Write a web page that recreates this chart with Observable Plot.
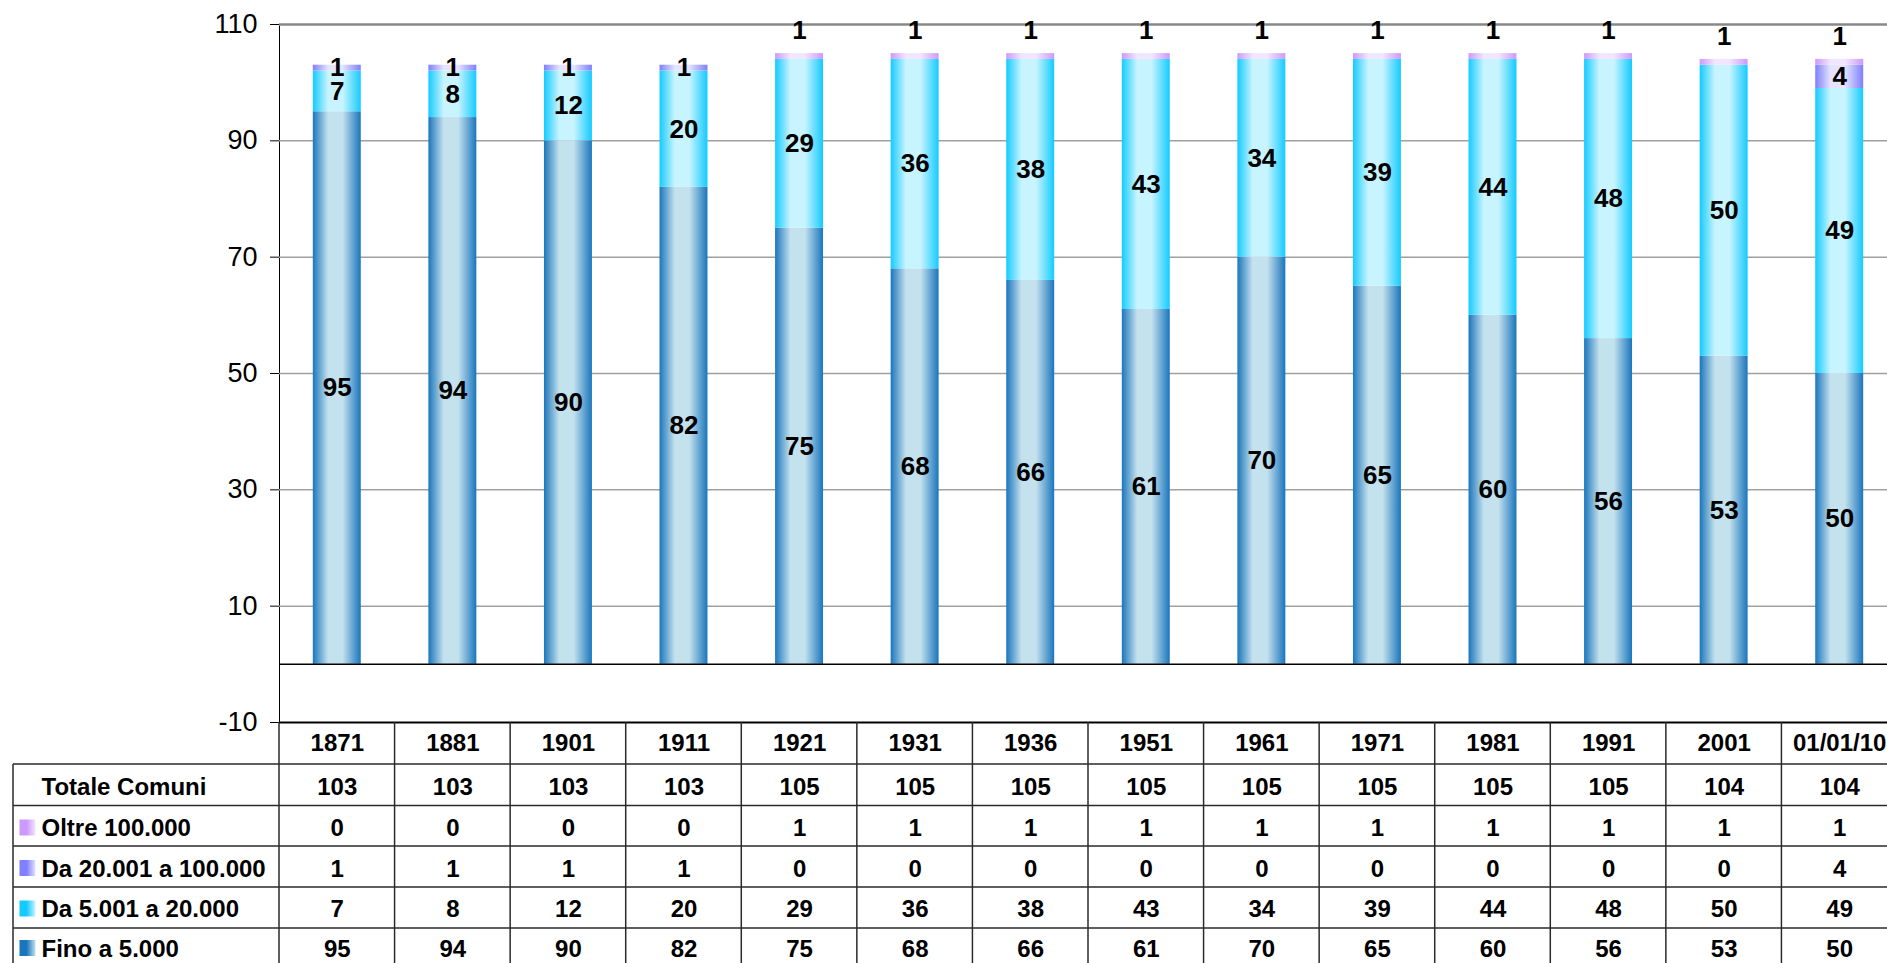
<!DOCTYPE html>
<html><head><meta charset="utf-8">
<script src="https://cdn.jsdelivr.net/npm/d3@7"></script>
<script src="https://cdn.jsdelivr.net/npm/@observablehq/plot@0.6"></script>
<style>
html,body{margin:0;padding:0;background:#fff;overflow:hidden;}
#chart{width:1900px;}
#chart svg{display:block;max-width:none !important;width:1900px !important;height:975px !important;}
</style></head><body><div id="chart"></div>
<script>
// ---- data ----
const years = ["1871","1881","1901","1911","1921","1931","1936","1951","1961","1971","1981","1991","2001","01/01/10"];
const totale = [103,103,103,103,105,105,105,105,105,105,105,105,104,104];
const oltre100k = [0,0,0,0,1,1,1,1,1,1,1,1,1,1];
const da20k = [1,1,1,1,0,0,0,0,0,0,0,0,0,4];
const da5k = [7,8,12,20,29,36,38,43,34,39,44,48,50,49];
const fino5k = [95,94,90,82,75,68,66,61,70,65,60,56,53,50];
const seriesNames = ["Fino a 5.000","Da 5.001 a 20.000","Da 20.001 a 100.000","Oltre 100.000"];
const seriesValues = [fino5k, da5k, da20k, oltre100k];
const yTicks = [-10,10,30,50,70,90,110];
const gridTicks = [10,30,50,70,90];
const tableRowLabels = ["Totale Comuni","Oltre 100.000","Da 20.001 a 100.000","Da 5.001 a 20.000","Fino a 5.000"];
const tableRowValues = [totale, oltre100k, da20k, da5k, fino5k];
const tableRowSeries = [null,"Oltre 100.000","Da 20.001 a 100.000","Da 5.001 a 20.000","Fino a 5.000"];

// ---- styles ----
const gradColors = {
  "Fino a 5.000": ["#1a76bc","#c4e1ee"],
  "Da 5.001 a 20.000": ["#14cbff","#c8f4ff"],
  "Da 20.001 a 100.000": ["#7f7fff","#e4e4ff"],
  "Oltre 100.000": ["#cc99ff","#f1e6ff"]
};
const slug = s => s.replace(/[^a-z0-9]/gi, "");
const gid = s => "g-" + slug(s);
const lid = s => "l-" + slug(s);

const long = [];
seriesNames.forEach((s, k) => years.forEach((y, i) => long.push({year: y, series: s, value: seriesValues[k][i]})));

const headerDy = 21;
const rowDy = [65, 106, 146.5, 187, 226.5];
const rowEdges = [0, 42, 83.5, 124, 165, 206, 247];
const FONT = "'Liberation Sans', Arial, Helvetica, sans-serif";
const TABLE_FS = 24;
const LABEL_FS = 26;
const TICK_FS = 27;

const plot = Plot.plot({
  width: 1900, height: 975,
  marginTop: 24, marginBottom: 253, marginLeft: 279, marginRight: 3,
  style: {fontFamily: FONT, fontSize: "24px", color: "#000", background: "transparent", overflow: "visible"},
  x: {domain: years, paddingInner: 0.585, paddingOuter: 0.2925, round: false, axis: null},
  y: {domain: [-10, 110], ticks: yTicks, tickSize: 9, tickPadding: 13, label: null, line: true, tickFormat: () => ""},
  color: {type: "ordinal", domain: seriesNames, range: seriesNames.map(s => `url(#${gid(s)})`)},
  marks: [
    Plot.ruleY(gridTicks, {stroke: "#a0a0a0", strokeWidth: 1.5}),
    Plot.ruleY([110], {stroke: "#888", strokeWidth: 2.5}),
    // y tick labels
    Plot.text(yTicks, {y: d => d, text: d => String(d), frameAnchor: "left", textAnchor: "end", lineAnchor: "middle", dx: -22, fontSize: TICK_FS, fill: "#000"}),
    Plot.barY(long, {x: "year", y: "value", fill: "series", z: "series", order: seriesNames}),
    Plot.ruleY([0], {stroke: "#000", strokeWidth: 1.5}),
    Plot.ruleY([-10], {stroke: "#000", strokeWidth: 2}),
    Plot.text(long, Plot.stackY({
      x: "year", y: "value", z: "series", order: seriesNames,
      text: d => (d.series !== "Oltre 100.000" && d.value > 0) ? String(d.value) : null,
      fontWeight: "bold", fontSize: LABEL_FS, fill: "#000"
    })),
    Plot.text(long, Plot.stackY2({
      x: "year", y: "value", z: "series", order: seriesNames,
      text: d => (d.series === "Oltre 100.000" && d.value > 0) ? String(d.value) : null,
      dy: -23, fontWeight: "bold", fontSize: LABEL_FS, fill: "#000"
    })),
    // table header
    Plot.text(years, {x: d => d, text: d => d, frameAnchor: "bottom", lineAnchor: "middle", dy: headerDy, fontWeight: "bold", fontSize: TABLE_FS, fill: "#000"}),
    // table values
    ...tableRowValues.map((vals, r) => Plot.text(years, {
      x: d => d, text: (d, i) => String(vals[i]), frameAnchor: "bottom", lineAnchor: "middle", dy: rowDy[r],
      fontWeight: "bold", fontSize: TABLE_FS, fill: "#000"
    })),
    // row labels
    ...tableRowLabels.map((lab, r) => Plot.text([lab], {
      text: d => d, frameAnchor: "bottom-left", lineAnchor: "middle", textAnchor: "start", dx: -238, dy: rowDy[r],
      fontWeight: "bold", fontSize: TABLE_FS, fill: "#000"
    })),
    // legend keys
    ...tableRowSeries.map((s, r) => s ? Plot.dot([s], {
      frameAnchor: "bottom-left", dx: -252, dy: rowDy[r] - 1, symbol: "square", r: 9.03,
      fill: `url(#${lid(s)})`
    }) : null).filter(Boolean)
  ]
});

const svg = d3.select(plot);

// gradients
const defs = svg.insert("defs", ":first-child");
seriesNames.forEach(s => {
  const [edge, light] = gradColors[s];
  const g = defs.append("linearGradient").attr("id", gid(s)).attr("x1", 0).attr("x2", 1).attr("y1", 0).attr("y2", 0);
  [[0, edge], [0.32, light], [0.62, light], [1, edge]].forEach(([o, c]) => g.append("stop").attr("offset", o).attr("stop-color", c));
  const l = defs.append("linearGradient").attr("id", lid(s)).attr("x1", 0).attr("x2", 1).attr("y1", 0).attr("y2", 0);
  [[0, edge], [0.45, edge], [1, light]].forEach(([o, c]) => l.append("stop").attr("offset", o).attr("stop-color", c));
});

// table grid lines, positioned from the plot's own scales
const xs = plot.scale("x");
const ys = plot.scale("y");
const edges = years.map(d => xs.apply(d) + xs.bandwidth / 2 - xs.step / 2);
edges.push(edges[edges.length - 1] + xs.step);
const y0 = ys.apply(-10);
const leftX = 13;
const gl = svg.append("g").attr("stroke", "#2a2a2a").attr("stroke-width", 1.5);
rowEdges.slice(1).forEach(o => gl.append("line").attr("x1", leftX).attr("x2", edges[edges.length - 1]).attr("y1", y0 + o).attr("y2", y0 + o));
gl.append("line").attr("x1", leftX).attr("x2", leftX).attr("y1", y0 + rowEdges[1]).attr("y2", y0 + rowEdges[6]);
edges.forEach(x => gl.append("line").attr("x1", x).attr("x2", x).attr("y1", y0).attr("y2", y0 + rowEdges[6]));

document.getElementById("chart").append(plot);
</script>
</body></html>
